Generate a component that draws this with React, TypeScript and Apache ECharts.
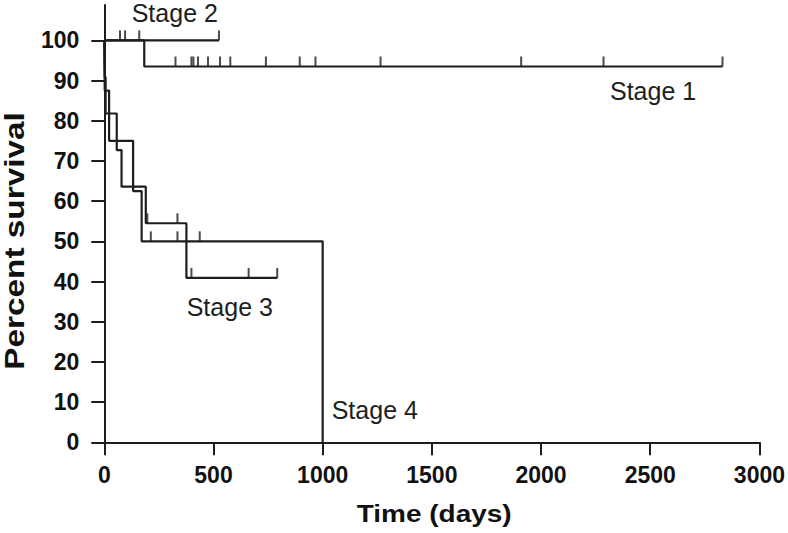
import React, { useEffect, useRef } from "react";
import * as echarts from "echarts";

// ---- Data (Kaplan–Meier curves) ----
// Step points: time (days) where survival changes, and survival level (%) after it
const stage1Times = [0, 183, 2831];
const stage1Surv = [100, 93.5, 93.5];
const stage1Censored = [326, 399, 408, 429, 475, 530, 577, 740, 895, 967, 1265, 1909, 2286, 2831];

const stage2Times = [0, 525];
const stage2Surv = [100, 100];
const stage2Censored = [72, 95, 160, 525];

const stage3Times = [0, 2, 6, 57, 79, 190, 376, 792];
const stage3Surv = [100, 90.9, 81.8, 72.7, 63.6, 54.5, 40.9, 40.9];
const stage3Censored = [197, 335, 399, 661, 792];

const stage4Times = [0, 2, 22, 132, 171, 1000];
const stage4Surv = [100, 87.5, 75, 62.5, 50, 0];
const stage4Censored = [213, 335, 437];

const xTickValues = [0, 500, 1000, 1500, 2000, 2500, 3000];
const yTickValues = [0, 10, 20, 30, 40, 50, 60, 70, 80, 90, 100];

const stageNames = ["Stage 1", "Stage 2", "Stage 3", "Stage 4"];

const INK = "#1e1e1e";
const FONT = '"Liberation Sans", Arial, Helvetica, sans-serif';

function stepPoints(times: number[], surv: number[]) {
  return times.map((t, i) => [t, surv[i]]);
}

function censorPoints(times: number[], surv: number[], cens: number[]) {
  return cens.map((c) => {
    let s = surv[0];
    for (let i = 0; i < times.length; i++) {
      if (times[i] <= c) s = surv[i];
    }
    return [c, s];
  });
}

export default function App() {
  const ref = useRef<HTMLDivElement>(null);

  useEffect(() => {
    if (!ref.current) return;
    const chart = echarts.init(ref.current, undefined, { renderer: "svg" });

    const curves = [
      { name: stageNames[0], t: stage1Times, s: stage1Surv, c: stage1Censored },
      { name: stageNames[1], t: stage2Times, s: stage2Surv, c: stage2Censored },
      { name: stageNames[2], t: stage3Times, s: stage3Surv, c: stage3Censored },
      { name: stageNames[3], t: stage4Times, s: stage4Surv, c: stage4Censored },
    ];

    const series: any[] = [];
    curves.forEach((cv) => {
      series.push({
        name: cv.name,
        type: "line",
        step: "end",
        data: stepPoints(cv.t, cv.s),
        showSymbol: false,
        lineStyle: { color: INK, width: 2.2 },
        silent: true,
      });
      series.push({
        name: cv.name + " censored",
        type: "scatter",
        data: censorPoints(cv.t, cv.s, cv.c),
        symbol: "rect",
        symbolSize: [2, 10],
        symbolOffset: [0, -5],
        itemStyle: { color: INK },
        silent: true,
      });
    });

    const labelStyle = {
      font: `25px ${FONT}`,
      fill: INK,
      align: "left",
      textAlign: "left",
      verticalAlign: "middle",
      textVerticalAlign: "middle",
    };

    chart.setOption({
      animation: false,
      backgroundColor: "#ffffff",
      grid: { left: 104.3, right: 27, top: 5, bottom: 90.7, containLabel: false },
      xAxis: {
        type: "value",
        min: 0,
        max: 3000,
        interval: 500,
        axisLine: { show: true, onZero: false, lineStyle: { color: INK, width: 2 } },
        axisTick: { show: true, inside: false, length: 13, lineStyle: { color: INK, width: 2 }, customValues: xTickValues },
        axisLabel: {
          customValues: xTickValues,
          formatter: (v: number) => String(v),
          margin: 21,
          color: "#111",
          fontFamily: FONT,
          fontWeight: "bold",
          fontSize: 23,
        },
        splitLine: { show: false },
      },
      yAxis: {
        type: "value",
        min: 0,
        max: 108.8,
        axisLine: { show: true, onZero: false, lineStyle: { color: INK, width: 2 } },
        axisTick: { show: true, inside: false, length: 13, lineStyle: { color: INK, width: 2 }, customValues: yTickValues },
        axisLabel: {
          customValues: yTickValues,
          formatter: (v: number) => String(v),
          margin: 25,
          color: "#111",
          fontFamily: FONT,
          fontWeight: "bold",
          fontSize: 23,
        },
        splitLine: { show: false },
      },
      graphic: [
        {
          type: "text",
          x: 14.5,
          y: 241,
          rotation: Math.PI / 2,
          scaleX: 1.235,
          style: {
            text: "Percent survival",
            font: `bold 27px ${FONT}`,
            fill: "#111",
            align: "center",
            textAlign: "center",
            verticalAlign: "middle",
            textVerticalAlign: "middle",
          },
        },
        {
          type: "text",
          x: 434.2,
          y: 513.7,
          scaleX: 1.165,
          style: {
            text: "Time (days)",
            font: `bold 24px ${FONT}`,
            fill: "#111",
            align: "center",
            textAlign: "center",
            verticalAlign: "middle",
            textVerticalAlign: "middle",
          },
        },
        { type: "text", x: 131.7, y: 13, style: { ...labelStyle, text: stageNames[1] } },
        { type: "text", x: 610, y: 90.8, style: { ...labelStyle, text: stageNames[0] } },
        { type: "text", x: 186.7, y: 307, style: { ...labelStyle, text: stageNames[2] } },
        { type: "text", x: 331.7, y: 410, style: { ...labelStyle, text: stageNames[3] } },
      ],
      series,
    });

    return () => {
      chart.dispose();
    };
  }, []);

  return (
    <div
      ref={ref}
      style={{ position: "fixed", left: 0, top: 0, width: 788, height: 533, background: "#fff" }}
    />
  );
}
